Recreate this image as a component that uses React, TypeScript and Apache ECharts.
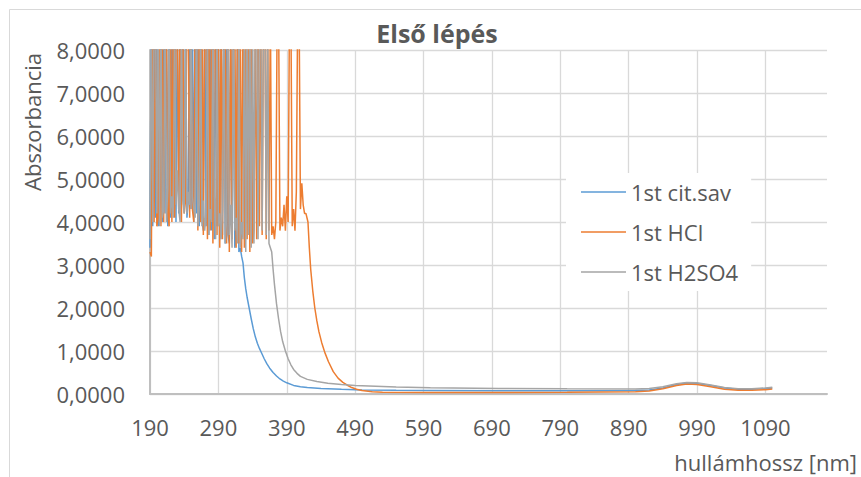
import React, { useEffect, useRef } from "react";
import * as echarts from "echarts";

const TITLE = "Első lépés";
const Y_NAME = "Abszorbancia";
const X_NAME = "hullámhossz [nm]";
const seriesNames = ["1st cit.sav", "1st HCl", "1st H2SO4"];
const seriesColors = ["#5B9BD5", "#ED7D31", "#A5A5A5"];

const xTickValues = [190, 290, 390, 490, 590, 690, 790, 890, 990, 1090];
const yTickValues = [0, 1, 2, 3, 4, 5, 6, 7, 8];

// [wavelength nm, absorbance] — saturated spikes are clipped at the axis max (8)
const citSav: [number, number][] = [
  [190, 3.4], [192, 9], [194, 3.9], [196, 9], [198, 4.1], [200, 9], [202, 3.9], [204, 4.4], [206, 9], [208, 4.0],
  [210, 9], [212, 4.2], [214, 9], [216, 3.9], [218, 9], [220, 4.1], [222, 9], [224, 4.3], [226, 9], [228, 4.0],
  [230, 9], [232, 4.2], [234, 9], [236, 4.4], [238, 9], [240, 4.3], [242, 9], [244, 4.1], [246, 4.5], [248, 9],
  [250, 4.3], [252, 9], [254, 4.0], [256, 9], [258, 4.2], [260, 9], [262, 3.9], [264, 9], [266, 4.1], [268, 3.8],
  [270, 9], [272, 3.9], [274, 9], [276, 3.7], [278, 9], [280, 3.8], [282, 9], [284, 3.6], [286, 9], [288, 3.9],
  [290, 9], [292, 3.6], [294, 9], [296, 3.7], [298, 9], [300, 3.5], [302, 9], [304, 3.7], [306, 3.5], [308, 9],
  [310, 3.6], [312, 9], [314, 3.4], [316, 3.6], [318, 9], [320, 3.3], [322, 3.4], [324, 3.2],
  [326, 3.05], [328, 2.7], [330, 2.45], [332, 2.25], [335, 2.0], [338, 1.75], [341, 1.52], [344, 1.33], [347, 1.18],
  [350, 1.06], [353, 0.96], [357, 0.82], [361, 0.7], [365, 0.6], [370, 0.5], [375, 0.42], [380, 0.35], [385, 0.3],
  [390, 0.26], [400, 0.2], [410, 0.17], [420, 0.15], [440, 0.13], [470, 0.11], [500, 0.095], [550, 0.085],
  [600, 0.08], [700, 0.075], [800, 0.075], [900, 0.08], [920, 0.095], [940, 0.14], [960, 0.22], [975, 0.255],
  [990, 0.245], [1010, 0.2], [1030, 0.14], [1050, 0.11], [1070, 0.11], [1090, 0.13], [1100, 0.14],
];

const hcl: [number, number][] = [
  [190, 3.3], [192, 3.2], [194, 9], [196, 4.0], [198, 9], [200, 3.9], [202, 4.1], [204, 9], [206, 3.9], [208, 9],
  [210, 4.0], [212, 9], [214, 9], [216, 4.2], [218, 3.9], [220, 9], [222, 4.0], [224, 9], [226, 4.1], [228, 9],
  [230, 9], [232, 4.3], [234, 9], [236, 4.0], [238, 9], [240, 4.2], [242, 4.5], [244, 9], [246, 9], [248, 4.1],
  [250, 9], [252, 4.3], [254, 4.0], [256, 9], [258, 9], [260, 3.8], [262, 9], [264, 4.0], [266, 9], [268, 3.7],
  [270, 9], [272, 9], [274, 3.6], [276, 9], [278, 3.8], [280, 9], [282, 3.5], [284, 9], [286, 9], [288, 3.7],
  [290, 9], [292, 3.4], [294, 9], [296, 3.6], [298, 9], [300, 9], [302, 3.5], [304, 9], [306, 3.3], [308, 9],
  [310, 3.6], [312, 9], [314, 9], [316, 3.4], [318, 9], [320, 3.5], [322, 9], [324, 3.3], [326, 9], [328, 3.4],
  [330, 9], [332, 3.6], [334, 9], [336, 3.3], [338, 9], [340, 3.5], [342, 3.8], [344, 9], [346, 3.6], [348, 9],
  [350, 3.9], [352, 9], [354, 3.7], [356, 9], [358, 9], [360, 3.6], [362, 9], [364, 3.8], [366, 9], [368, 3.7],
  [370, 3.9], [372, 3.6], [374, 4.0], [376, 9], [378, 9], [380, 3.8], [382, 4.1], [384, 3.9], [386, 4.4], [388, 3.8],
  [390, 4.6], [392, 4.0], [394, 9], [396, 9], [398, 3.9], [400, 4.3], [402, 3.8], [404, 4.7], [406, 9], [408, 9],
  [410, 4.3], [412, 4.9], [414, 4.4], [416, 4.2], [418, 4.2],
  [421, 4.0], [423, 3.4], [425, 2.9], [428, 2.4], [431, 2.0], [434, 1.7], [437, 1.45], [441, 1.2], [446, 0.95],
  [451, 0.75], [458, 0.52], [465, 0.37], [472, 0.27], [478, 0.21], [485, 0.15], [492, 0.11], [500, 0.08],
  [515, 0.05], [530, 0.04], [600, 0.035], [700, 0.035], [800, 0.04], [900, 0.055], [920, 0.07], [940, 0.12],
  [960, 0.2], [975, 0.23], [990, 0.22], [1010, 0.17], [1030, 0.11], [1050, 0.085], [1070, 0.085], [1090, 0.1],
  [1100, 0.115],
];

const h2so4: [number, number][] = [
  [190, 3.6], [192, 9], [194, 4.0], [196, 9], [198, 9], [200, 4.2], [202, 9], [204, 3.9], [206, 9], [208, 4.1],
  [210, 4.3], [212, 9], [214, 4.0], [216, 4.8], [218, 9], [220, 4.2], [222, 4.6], [224, 4.1], [226, 9], [228, 4.4],
  [230, 5.2], [232, 4.3], [234, 4.0], [236, 9], [238, 4.5], [240, 4.2], [242, 9], [244, 4.2], [246, 4.7], [248, 4.4],
  [250, 9], [252, 4.6], [254, 4.3], [256, 4.1], [258, 9], [260, 3.9], [262, 4.4], [264, 9], [266, 3.9], [268, 4.5],
  [270, 3.8], [272, 4.2], [274, 9], [276, 3.7], [278, 4.3], [280, 4.0], [282, 9], [284, 4.6], [286, 3.6], [288, 9],
  [290, 3.9], [292, 4.2], [294, 3.6], [296, 4.3], [298, 9], [300, 3.5], [302, 4.1], [304, 9], [306, 3.7], [308, 4.4],
  [310, 3.4], [312, 9], [314, 3.8], [316, 4.1], [318, 3.5], [320, 9], [322, 3.4], [324, 4.0], [326, 3.6], [328, 9],
  [330, 3.3], [332, 9], [334, 3.7], [336, 9], [338, 3.4], [340, 9], [342, 3.5], [344, 9], [346, 9], [348, 3.6],
  [350, 9], [352, 9], [354, 3.8], [356, 9], [358, 9], [360, 3.7], [362, 9], [364, 3.5], [366, 3.4],
  [368, 3.3], [370, 2.9], [372, 2.55], [375, 2.1], [378, 1.75], [381, 1.45], [384, 1.22], [388, 1.0], [392, 0.82],
  [396, 0.68], [400, 0.57], [405, 0.48], [410, 0.41], [420, 0.34], [434, 0.29], [450, 0.25], [470, 0.22],
  [490, 0.2], [550, 0.16], [600, 0.145], [700, 0.13], [800, 0.12], [900, 0.115], [920, 0.13], [940, 0.17],
  [960, 0.24], [975, 0.27], [990, 0.26], [1010, 0.21], [1030, 0.15], [1050, 0.125], [1070, 0.12], [1090, 0.14],
  [1100, 0.155],
];

const seriesData = [citSav, hcl, h2so4];

const FONT = '"Open Sans", sans-serif';
const TEXT_COLOR = "#595959";

export default function App() {
  const ref = useRef<HTMLDivElement>(null);
  useEffect(() => {
    if (!ref.current) return;
    const chart = echarts.init(ref.current, undefined, { renderer: "svg" });
    chart.setOption({
      animation: false,
      backgroundColor: "#ffffff",
      textStyle: { fontFamily: FONT },
      grid: { left: 150, right: 34, top: 50, bottom: 83, containLabel: false },
      xAxis: {
        type: "value",
        min: 190,
        max: 1180,
        axisLine: { show: true, lineStyle: { color: "#bfbfbf", width: 2 } },
        axisTick: { show: false, customValues: xTickValues },
        axisLabel: {
          customValues: xTickValues,
          color: TEXT_COLOR,
          fontSize: 22,
          fontFamily: FONT,
          margin: 22,
          formatter: (v: number) => String(v),
        },
        splitLine: { show: true, lineStyle: { color: "#d9d9d9", width: 1.3 } },
      },
      yAxis: {
        type: "value",
        min: yTickValues[0],
        max: yTickValues[yTickValues.length - 1],
        interval: 1,
        axisLine: { show: true, lineStyle: { color: "#bfbfbf", width: 2 } },
        axisTick: { show: false },
        axisLabel: {
          color: TEXT_COLOR,
          fontSize: 22,
          fontFamily: FONT,
          margin: 25,
          formatter: (v: number) => v.toFixed(4).replace(".", ","),
        },
        splitLine: { show: true, lineStyle: { color: "#d9d9d9", width: 1.3 } },
      },
      legend: {
        orient: "vertical",
        left: 566,
        top: 173,
        backgroundColor: "#ffffff",
        padding: [7, 13, 7, 15],
        itemWidth: 45,
        itemHeight: 1.5,
        itemGap: 16,
        data: seriesNames.map((name) => ({ name, icon: "rect" })),
        textStyle: { color: TEXT_COLOR, fontSize: 22, fontFamily: FONT, lineHeight: 24 },
      },
      graphic: [
        {
          type: "rect",
          shape: { x: 9.5, y: 9.5, width: 900, height: 500 },
          style: { fill: "none", stroke: "#d9d9d9", lineWidth: 1 },
          silent: true,
          z: -10,
        },
        {
          type: "text",
          x: 437,
          y: 33,
          style: {
            text: TITLE,
            font: `bold 25px ${FONT}`,
            fill: TEXT_COLOR,
            textAlign: "center",
            textVerticalAlign: "middle",
          },
        },
        {
          type: "text",
          x: 32,
          y: 122,
          rotation: Math.PI / 2,
          style: {
            text: Y_NAME,
            font: `22px ${FONT}`,
            fill: TEXT_COLOR,
            textAlign: "center",
            textVerticalAlign: "middle",
          },
        },
        {
          type: "text",
          x: 857,
          y: 462,
          style: {
            text: X_NAME,
            font: `22px ${FONT}`,
            fill: TEXT_COLOR,
            textAlign: "right",
            textVerticalAlign: "middle",
          },
        },
      ],
      series: seriesNames.map((name, i) => ({
        name,
        type: "line",
        data: seriesData[i],
        symbol: "none",
        clip: true,
        lineStyle: { color: seriesColors[i], width: 1.5 },
        itemStyle: { color: seriesColors[i] },
        z: 2 + i,
      })),
    });
    return () => chart.dispose();
  }, []);
  return (
    <div
      ref={ref}
      style={{ position: "fixed", left: 0, top: 0, width: 861, height: 477 }}
    />
  );
}
